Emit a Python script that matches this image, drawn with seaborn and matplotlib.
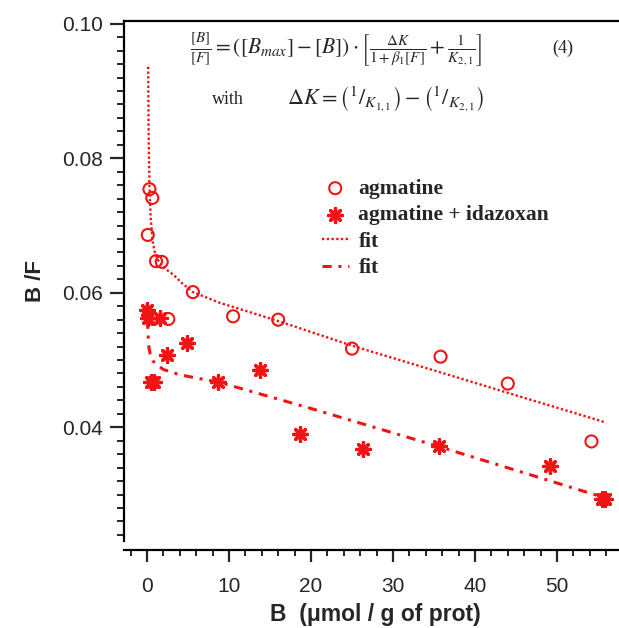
import numpy as np
import pandas as pd
import matplotlib
matplotlib.use("Agg")
import matplotlib.pyplot as plt
import seaborn as sns
from matplotlib.ticker import MultipleLocator, FormatStrFormatter

# agmatine (open circles)
agm_B = [0.1, 0.3, 0.65, 0.8, 1.1, 1.8, 2.6, 5.6, 10.5, 16.0, 25.0, 35.8, 44.0, 54.2]
agm_BF = [0.0686, 0.0754, 0.0741, 0.0561, 0.0647, 0.0646, 0.0561, 0.0601,
          0.0565, 0.0560, 0.0517, 0.0505, 0.0465, 0.0379]

# agmatine + idazoxan (asterisks)
ida_B = [0.0, 0.1, 0.5, 0.9, 1.6, 2.4, 4.9, 8.7, 13.8, 18.7, 26.3, 35.6, 49.2, 55.5, 55.9]
ida_BF = [0.0575, 0.0562, 0.0468, 0.0468, 0.0562, 0.0508, 0.0525, 0.0467,
          0.0485, 0.0390, 0.0368, 0.0372, 0.0343, 0.0294, 0.0294]

# fit curves
fit1_B = [0.15, 0.2, 0.3, 0.45, 0.7, 1.0, 1.5, 2.3, 3.2, 4.3, 5.6, 8.9, 16.0, 25.1, 35.7, 43.8, 56.0]
fit1_BF = [0.0936, 0.0840, 0.0760, 0.0712, 0.0676, 0.0658, 0.0645, 0.0635, 0.0627,
           0.0614, 0.0601, 0.0585, 0.0558, 0.0521, 0.0482, 0.0452, 0.0407]
fit2_B = [0.05, 0.15, 0.25, 0.4, 0.7, 1.2, 2.0, 4.0, 8.8, 20.0, 35.7, 55.9]
fit2_BF = [0.0560, 0.0535, 0.0518, 0.0508, 0.0499, 0.0493, 0.0486, 0.0478,
           0.0467, 0.0428, 0.0371, 0.0295]

agm = pd.DataFrame({"B": agm_B, "BF": agm_BF})
ida = pd.DataFrame({"B": ida_B, "BF": ida_BF})
fit1 = pd.DataFrame({"B": fit1_B, "BF": fit1_BF})
fit2 = pd.DataFrame({"B": fit2_B, "BF": fit2_BF})

sns.set_style("ticks")
plt.rcParams['font.family'] = ['Liberation Sans', 'DejaVu Sans']
plt.rcParams['mathtext.fontset'] = 'stix'

red = '#f01414'

fig = plt.figure(figsize=(6.19, 6.28), dpi=100)
ax = fig.add_axes([124 / 619, 87 / 628, 495 / 619, 520 / 628])

sns.lineplot(data=fit1, x="B", y="BF", sort=False, estimator=None, color=red,
             linewidth=1.7, linestyle=(0, (1, 1.0)), label="fit", ax=ax)
sns.lineplot(data=fit2, x="B", y="BF", sort=False, estimator=None, color=red,
             linewidth=2.2, linestyle=(0, (3, 2.2, 1, 2.2)), label="fit", ax=ax)
sns.scatterplot(data=agm, x="B", y="BF", marker="o", s=75, facecolor="none",
                edgecolor=red, linewidth=1.5, label="agmatine", ax=ax, zorder=3)
sns.scatterplot(data=ida, x="B", y="BF", marker=(8, 2, 0), s=95, color=red,
                linewidth=2.4, label="agmatine + idazoxan", ax=ax, zorder=3)

ax.set_xlim(-2.8, 57.56)
ax.set_ylim(0.0231, 0.1004)
ax.xaxis.set_major_locator(MultipleLocator(10))
ax.xaxis.set_minor_locator(MultipleLocator(2))
ax.yaxis.set_major_locator(MultipleLocator(0.02))
ax.yaxis.set_minor_locator(MultipleLocator(0.002))
ax.yaxis.set_major_formatter(FormatStrFormatter('%.2f'))

for s in ['left', 'top', 'bottom']:
    ax.spines[s].set_linewidth(1.6)
    ax.spines[s].set_color('black')
ax.spines['right'].set_visible(False)
ax.spines['bottom'].set_position(('outward', 6.5))

ax.tick_params(axis='y', which='major', direction='out', length=10, width=1.6,
               labelsize=15, pad=5)
ax.tick_params(axis='y', which='minor', direction='out', length=5, width=1.4)
ax.tick_params(axis='x', which='major', direction='out', length=8.5, width=1.6,
               labelsize=15, pad=11)
ax.tick_params(axis='x', which='minor', direction='out', length=4, width=1.4)

ax.set_xlabel("B  (\u03bcmol / g of prot)", fontsize=16.5, fontweight='bold')
ax.xaxis.set_label_coords((375 - 124) / 495, -0.12)
ax.set_ylabel("B /F", fontsize=16, fontweight='bold', labelpad=12)

# legend: symbols first, then fits
h, l = ax.get_legend_handles_labels()
order = [2, 3, 0, 1]
ax.legend([h[i] for i in order], [l[i] for i in order],
          loc='upper left', bbox_to_anchor=(311 / 619, 1 - 168 / 628),
          bbox_transform=fig.transFigure, frameon=False, borderpad=0,
          handlelength=1.25, handletextpad=0.45, labelspacing=0.3,
          prop={'family': 'Liberation Serif', 'weight': 'bold', 'size': 15.5})

# equation (4)
fig.text(190 / 619, 1 - 50 / 628,
         r'$\frac{[B]}{[F]} = ([B_{max}] - [B])\cdot\left[\frac{\Delta K}{1+\beta_1[F]}+\frac{1}{K_{2,1}}\right]$',
         fontsize=15.5, va='center', ha='left')
fig.text(563 / 619, 1 - 48 / 628, "(4)", fontsize=13, family='Liberation Serif',
         va='center', ha='center')
fig.text(212 / 619, 1 - 99 / 628, "with", fontsize=13, family='Liberation Serif',
         va='center', ha='left')
fig.text(287 / 619, 1 - 99 / 628,
         r'$\Delta K = \left(^{1}/_{K_{1,1}}\right) - \left(^{1}/_{K_{2,1}}\right)$',
         fontsize=16, va='center', ha='left')

fig.savefig("out.png", dpi=100)
